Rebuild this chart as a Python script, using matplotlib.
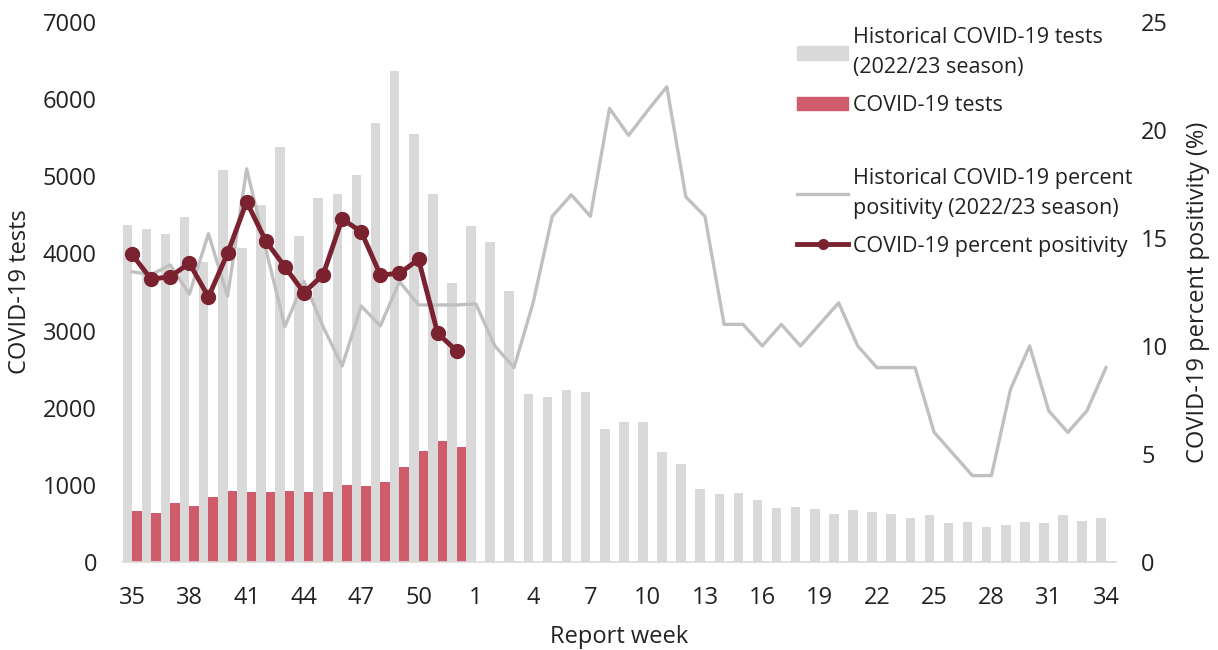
import numpy as np
import matplotlib
matplotlib.use('Agg')
import matplotlib.pyplot as plt
from matplotlib.patches import Patch
from matplotlib.lines import Line2D

plt.rcParams['font.family'] = ['Open Sans', 'DejaVu Sans']

# report weeks: 35..52 (2023) then 1..34
weeks = [35, 36, 37, 38, 39, 40, 41, 42, 43, 44, 45, 46, 47, 48, 49, 50, 51, 52,
         1, 2, 3, 4, 5, 6, 7, 8, 9, 10, 11, 12, 13, 14, 15, 16, 17,
         18, 19, 20, 21, 22, 23, 24, 25, 26, 27, 28, 29, 30, 31, 32, 33, 34]

# historical tests (2022/23 season)
hist_tests = [4370, 4310, 4250, 4470, 3890, 5080, 4070, 4630, 5380, 4220, 4720, 4770,
              5010, 5690, 6370, 5550, 4770, 3620,
              4350, 4150, 3510, 2180, 2140, 2230, 2200, 1720, 1810, 1810, 1430, 1270,
              940, 880, 900, 810, 700, 712, 690, 620, 680, 645, 620, 575, 605, 500,
              515, 450, 480, 515, 500, 615, 535, 570]

# current season tests
covid_tests = [660, 630, 770, 730, 840, 915, 912, 912, 925, 903, 912, 1000,
               990, 1037, 1236, 1443, 1564, 1486]

# historical percent positivity (2022/23 season)
hist_pos = [13.44, 13.3, 13.75, 12.4, 15.2, 12.3, 18.2, 14.5, 10.9, 13.0, 10.9, 9.07,
            11.85, 10.93, 12.98, 11.9, 11.9, 11.9,
            11.95, 10, 9, 12, 16, 17, 16, 21, 19.75, 20.9, 22, 16.9, 16, 11, 11, 10,
            11, 10, 11, 12, 10, 9, 9, 9, 6, 5, 4, 4, 8, 10, 7, 6, 7, 9]

# current season percent positivity
covid_pos = [14.24, 13.09, 13.21, 13.83, 12.27, 14.29, 16.68, 14.86, 13.67, 12.47,
             13.29, 15.88, 15.29, 13.29, 13.36, 14.01, 10.59, 9.77]

FS = 17      # ticks and axis titles
LFS = 15.5   # legend
TXT = '#222222'
x = np.arange(len(weeks))
n_cur = len(covid_tests)

fig = plt.figure(figsize=(12.18, 6.5), dpi=100)
ax = fig.add_axes([0.1006, 0.1354, 0.8153, 0.8308])

ax.bar(x - 0.25, hist_tests, width=0.5, color='#d9d9d9', zorder=2)
ax.bar(x[:n_cur] + 0.25, covid_tests, width=0.5, color='#cf5c6a', zorder=2)

ax.set_xlim(-0.5, len(weeks) - 0.5)
ax.set_ylim(0, 7000)
ax.set_yticks(range(0, 7001, 1000))
ax.set_xticks(x[::3])
ax.set_xticklabels([str(w) for w in weeks[::3]])
ax.tick_params(axis='x', length=0, pad=17.5, labelsize=FS, labelcolor=TXT)
ax.tick_params(axis='y', length=0, pad=18.4, labelsize=FS, labelcolor=TXT)
for s in ['top', 'left', 'right']:
    ax.spines[s].set_visible(False)
ax.spines['bottom'].set_color('#d9d9d9')
ax.spines['bottom'].set_linewidth(1.2)

ax.set_ylabel('COVID-19 tests', fontsize=FS, color=TXT)
ax.yaxis.set_label_coords(-0.0915, 0.5)
ax.set_xlabel('Report week', fontsize=FS, color=TXT)
ax.xaxis.set_label_coords(0.5, -0.117)

ax2 = ax.twinx()
ax2.plot(x, hist_pos, color='#c0c0c0', lw=2.4, zorder=3)
ax2.plot(x[:n_cur], covid_pos, color='#7b2230', lw=3.5, marker='o', ms=10, zorder=4)
ax2.set_ylim(0, 25)
ax2.set_yticks(range(0, 26, 5))
ax2.tick_params(axis='y', length=0, pad=18.4, labelsize=FS, labelcolor=TXT)
for s in ax2.spines.values():
    s.set_visible(False)
ax2.set_ylabel('COVID-19 percent positivity (%)', fontsize=FS, color=TXT)
ax2.yaxis.set_label_coords(1.0705, 0.5)

# legend, split in two blocks like the original
h1 = [Patch(color='#d9d9d9'), Patch(color='#cf5c6a')]
l1 = ['Historical COVID-19 tests\n(2022/23 season)', 'COVID-19 tests']
leg1 = ax2.legend(h1, l1, loc='upper left', bbox_to_anchor=(797 / 1218, 1 - 27 / 650),
                  bbox_transform=fig.transFigure, frameon=False, fontsize=LFS,
                  borderpad=0, borderaxespad=0, handlelength=2.37, handleheight=0.6,
                  handletextpad=0.25, labelspacing=0.8)
for t in leg1.get_texts():
    t.set_linespacing(1.55)
    t.set_color(TXT)
ax2.add_artist(leg1)

h2 = [Line2D([], [], color='#c0c0c0', lw=2.4),
      Line2D([], [], color='#7b2230', lw=3.5, marker='o', ms=7)]
l2 = ['Historical COVID-19 percent\npositivity (2022/23 season)',
      'COVID-19 percent positivity']
leg2 = ax2.legend(h2, l2, loc='upper left', bbox_to_anchor=(797 / 1218, 1 - 168 / 650),
                  bbox_transform=fig.transFigure, frameon=False, fontsize=LFS,
                  borderpad=0, borderaxespad=0, handlelength=2.37,
                  handletextpad=0.25, labelspacing=0.8)
for t in leg2.get_texts():
    t.set_linespacing(1.55)
    t.set_color(TXT)

fig.savefig('out.png', dpi=100)
